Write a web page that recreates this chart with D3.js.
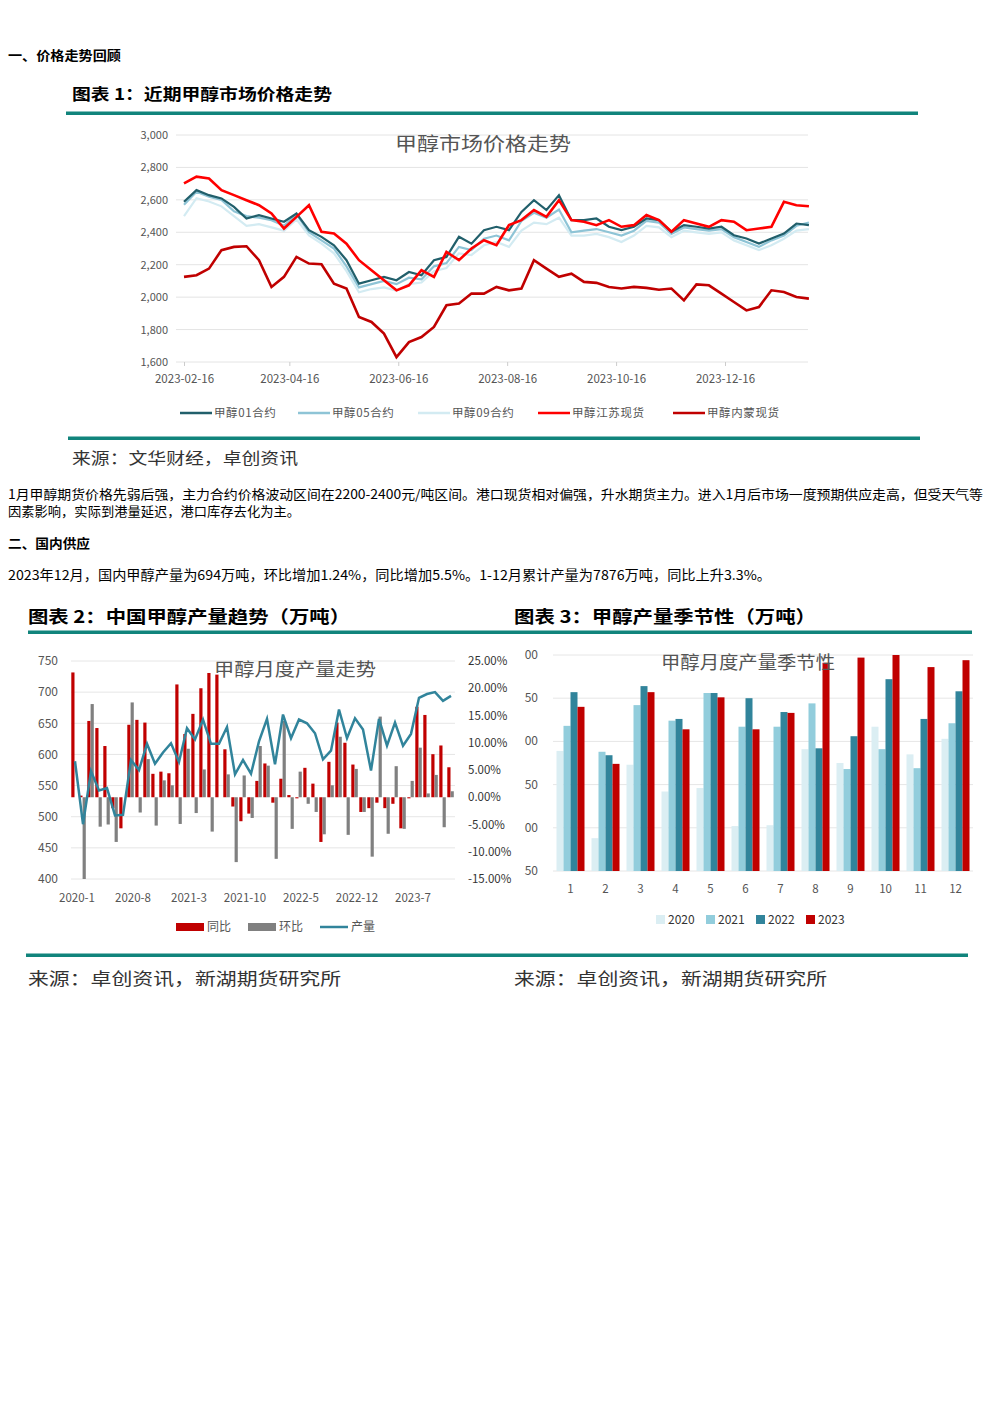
<!DOCTYPE html>
<html><head><meta charset="utf-8">
<script src="https://cdn.jsdelivr.net/npm/d3@7"></script>
<style>
body{margin:0;background:#fff;font-family:"Noto Sans CJK SC","Noto Sans",sans-serif;}
svg text{font-family:"Noto Sans CJK SC","Noto Sans",sans-serif;}
</style></head>
<body>
<svg id="page" width="992" height="1403"></svg>
<script>
// ---- chart 1 data: weekly samples from 2023-02-16
const priceStart = "2023-02-16";
const priceTicks = ["2023-02-16","2023-04-16","2023-06-16","2023-08-16","2023-10-16","2023-12-16"];
const priceYTicks = [1600,1800,2000,2200,2400,2600,2800,3000];
const c01 = [2588,2660,2629,2609,2557,2485,2506,2485,2465,2516,2413,2372,2320,2228,2083,2104,2125,2104,2155,2135,2228,2248,2372,2330,2413,2434,2413,2526,2598,2537,2629,2475,2475,2485,2434,2413,2434,2485,2475,2403,2444,2434,2423,2434,2382,2362,2330,2362,2392,2454,2444];
const c05 = [2570,2650,2620,2600,2530,2500,2490,2475,2440,2510,2400,2350,2300,2190,2060,2080,2100,2080,2120,2110,2190,2210,2310,2290,2360,2380,2350,2470,2520,2490,2540,2400,2410,2420,2400,2380,2410,2470,2460,2390,2430,2420,2410,2420,2370,2340,2310,2350,2380,2440,2460];
const c09 = [2500,2610,2590,2560,2500,2440,2450,2430,2410,2480,2380,2330,2270,2160,2030,2050,2060,2040,2080,2090,2160,2180,2270,2260,2320,2340,2310,2410,2460,2450,2490,2380,2380,2390,2370,2340,2380,2440,2430,2370,2410,2400,2390,2400,2350,2320,2290,2320,2360,2410,2420];
const spotJS = [2701,2743,2732,2660,2629,2598,2567,2516,2423,2495,2567,2403,2392,2330,2228,2166,2104,2042,2073,2166,2125,2279,2228,2300,2351,2320,2444,2475,2537,2495,2598,2475,2465,2444,2475,2434,2444,2506,2475,2403,2475,2454,2434,2475,2465,2413,2423,2434,2588,2567,2561];
const spotNM = [2125,2135,2176,2290,2310,2314,2228,2063,2125,2248,2207,2203,2083,2053,1877,1847,1775,1630,1723,1754,1816,1950,1960,2022,2022,2063,2042,2053,2228,2176,2125,2145,2094,2088,2063,2053,2063,2057,2046,2053,1980,2079,2073,2022,1970,1918,1939,2042,2032,2001,1991];
const priceNames = ["甲醇01合约","甲醇05合约","甲醇09合约","甲醇江苏现货","甲醇内蒙现货"];
const priceColors = ["#215f6b","#8ec4d6","#d3ebf2","#ff0000","#c00000"];

// ---- chart 2 data: 2020-1 .. 2023-12
const monthLabels = ["2020-1","2020-8","2021-3","2021-10","2022-5","2022-12","2023-7"];
const output = [589,488,573,542,546,502,503,591,575,617,585,603,
                618,588,642,624,656,617,617,644,568,591,569,621,
                657,584,664,626,656,650,634,592,606,672,626,658,
                640,574,657,614,651,614,633,691,697,700,686,694];
const yoy = [22.9,0.3,14.0,12.7,9.4,-2.0,-5.7,13.3,14.2,13.7,4.3,4.7,4.4,20.7,11.6,15.3,20.0,22.8,22.5,8.8,-1.7,-4.4,-3.0,3.0,
             6.2,-1.0,3.4,0.4,-0.2,5.4,2.5,-8.2,6.5,13.7,10.0,6.0,-2.7,-2.0,-1.0,-2.0,-1.2,-5.7,-0.2,16.6,15.1,7.9,9.5,5.5];
const mom = [0,-15.0,17.1,-5.4,-5.0,-8.2,0,17.4,-2.8,7.0,-5.2,3.1,2.2,-4.9,8.9,-2.9,5.1,-6.3,0,4.2,-11.9,4.0,-3.8,9.4,
             5.8,-11.3,14.0,-5.8,4.7,-1.2,-2.7,-6.8,2.2,11.1,-6.9,5.2,-2.7,-10.9,14.8,-6.7,5.7,-5.8,3.0,9.1,0.7,4.1,-5.5,1.1];
const leftTicks = [400,450,500,550,600,650,700,750];
const rightTicks = [-15,-10,-5,0,5,10,15,20,25];

// ---- chart 3 data
const months = ["1","2","3","4","5","6","7","8","9","10","11","12"];
const years = ["2020","2021","2022","2023"];
const y2020 = [589,488,573,542,546,502,503,591,575,617,585,603];
const y2021 = [618,588,642,624,656,617,617,644,568,591,569,621];
const y2022 = [657,584,664,626,656,650,634,592,606,672,626,658];
const y2023 = [640,574,657,614,651,614,633,691,697,700,686,694];
const seasonTicks = [450,500,550,600,650,700];
const seasonTickText = ["50","00","50","00","50","00"];
const yearColors = ["#dbeef3","#92cddc","#31849b","#c00000"];

const teal = "#11847c";
const svg = d3.select("#page");

function txt(x, y, s, size, opts = {}) {
  const t = svg.append("text").attr("x", x).attr("y", y).text(s)
    .attr("font-size", size).attr("fill", opts.fill || "#000")
    .attr("font-weight", opts.bold ? "bold" : "normal")
    .attr("text-anchor", opts.anchor || "start");
  if (opts.ls) t.attr("letter-spacing", opts.ls);
  if (opts.len) t.attr("textLength", opts.len).attr("lengthAdjust", "spacingAndGlyphs");
  return t;
}
function rule(x1, x2, y) {
  svg.append("rect").attr("x", x1).attr("y", y - 1.5).attr("width", x2 - x1).attr("height", 3.5).attr("fill", teal);
}

// page texts
txt(8, 60, "一、价格走势回顾", 13, {bold: true, len: 113});
txt(72, 100, "图表 1：近期甲醇市场价格走势", 16, {bold: true, len: 260});
rule(66, 918, 113);
rule(68, 920, 438);
txt(72, 464, "来源：文华财经，卓创资讯", 16, {fill: "#333", len: 226});
txt(8, 499, "1月甲醇期货价格先弱后强，主力合约价格波动区间在2200-2400元/吨区间。港口现货相对偏强，升水期货主力。进入1月后市场一度预期供应走高，但受天气等", 13, {len: 975});
txt(8, 516, "因素影响，实际到港量延迟，港口库存去化为主。", 13, {len: 292});
txt(8, 548, "二、国内供应", 13, {bold: true, len: 82});
txt(8, 580, "2023年12月，国内甲醇产量为694万吨，环比增加1.24%，同比增加5.5%。1-12月累计产量为7876万吨，同比上升3.3%。", 13.2, {len: 763});
txt(28, 623, "图表 2：中国甲醇产量趋势（万吨）", 17.5, {bold: true, len: 322});
txt(514, 623, "图表 3：甲醇产量季节性（万吨）", 17.5, {bold: true, len: 302});
rule(28, 972, 632);
rule(26, 968, 955);
txt(28, 985, "来源：卓创资讯，新湖期货研究所", 17, {fill: "#333", len: 313});
txt(514, 985, "来源：卓创资讯，新湖期货研究所", 17, {fill: "#333", len: 313});

// ===== chart 1
const parse = d3.timeParse("%Y-%m-%d");
const t0 = parse(priceStart);
const dates = c01.map((d, i) => d3.timeDay.offset(t0, 7 * i));
const x1 = d3.scaleTime().domain([parse("2023-02-16"), parse("2023-12-16")]).range([184, 725]);
const y1 = d3.scaleLinear().domain([1600, 3000]).range([362, 135]);
const g1 = svg.append("g");
g1.selectAll("line.grid").data(priceYTicks).enter().append("line")
  .attr("x1", 176).attr("x2", 808).attr("y1", d => y1(d)).attr("y2", d => y1(d))
  .attr("stroke", "#e4e4e4");
g1.append("g").attr("transform", "translate(176,0)")
  .call(d3.axisLeft(y1).tickValues(priceYTicks).tickFormat(d3.format(",")).tickSize(0).tickPadding(8))
  .call(a => a.select(".domain").remove())
  .selectAll("text").attr("font-size", 11).attr("fill", "#555");
g1.append("g").attr("transform", "translate(0,362)")
  .call(d3.axisBottom(x1).tickValues(priceTicks.map(parse)).tickFormat(d3.timeFormat("%Y-%m-%d")).tickSize(4).tickPadding(9))
  .call(a => a.select(".domain").remove())
  .call(a => a.selectAll("line").attr("stroke", "#ccc"))
  .selectAll("text").attr("font-size", 11.5).attr("fill", "#555");
txt(483, 151, "甲醇市场价格走势", 19, {fill: "#555", anchor: "middle", len: 176});
const priceSeries = [c01, c05, c09, spotJS, spotNM];
const line1 = d3.line().x((d, i) => x1(dates[i])).y(d => y1(d));
[2, 1, 0, 3, 4].forEach(k => {
  g1.append("path").datum(priceSeries[k]).attr("d", line1).attr("fill", "none")
    .attr("stroke", priceColors[k]).attr("stroke-width", k >= 3 ? 2.6 : 2.2);
});
const legX = [180, 298, 418, 538, 673];
priceNames.forEach((n, i) => {
  svg.append("line").attr("x1", legX[i]).attr("x2", legX[i] + 32).attr("y1", 413).attr("y2", 413)
    .attr("stroke", priceColors[i]).attr("stroke-width", 2.5);
  txt(legX[i] + 34, 417, n, 11.5, {fill: "#555", ls: 0.6});
});

// ===== chart 2
const x2 = d3.scaleBand().domain(d3.range(48)).range([71, 455]).padding(0);
const yL = d3.scaleLinear().domain([400, 750]).range([879, 661]);
const yR = d3.scaleLinear().domain([-15, 25]).range([879, 661]);
const g2 = svg.append("g");
g2.selectAll("line").data(leftTicks).enter().append("line")
  .attr("x1", 71).attr("x2", 455).attr("y1", d => yL(d)).attr("y2", d => yL(d)).attr("stroke", "#e6e6e6");
g2.append("g").attr("transform", "translate(64,0)")
  .call(d3.axisLeft(yL).tickValues(leftTicks).tickSize(0).tickPadding(6))
  .call(a => a.select(".domain").remove())
  .selectAll("text").attr("font-size", 12).attr("fill", "#555");
g2.append("g").attr("transform", "translate(462,0)")
  .call(d3.axisRight(yR).tickValues(rightTicks).tickFormat(d => d.toFixed(2) + "%").tickSize(0).tickPadding(6))
  .call(a => a.select(".domain").remove())
  .selectAll("text").attr("font-size", 11.5).attr("fill", "#333");
const bw = x2.bandwidth();
g2.selectAll("rect.yoy").data(yoy).enter().append("rect")
  .attr("x", (d, i) => x2(i) + 0.3).attr("width", bw * 0.4)
  .attr("y", d => yR(Math.max(0, d))).attr("height", d => Math.abs(yR(d) - yR(0)))
  .attr("fill", "#c00000");
g2.selectAll("rect.mom").data(mom).enter().append("rect")
  .attr("x", (d, i) => x2(i) + bw * 0.45).attr("width", bw * 0.4)
  .attr("y", d => yR(Math.max(0, d))).attr("height", d => Math.abs(yR(d) - yR(0)))
  .attr("fill", "#808080");
txt(295, 676, "甲醇月度产量走势", 18, {fill: "#555", anchor: "middle", len: 162});
g2.append("path").datum(output)
  .attr("d", d3.line().x((d, i) => x2(i) + bw / 2).y(d => yL(d)))
  .attr("fill", "none").attr("stroke", "#31849b").attr("stroke-width", 2.5);
monthLabels.forEach((m, j) => {
  txt(x2(j * 7) + bw / 2 + 2, 902, m, 11.5, {fill: "#555", anchor: "middle"});
});
svg.append("rect").attr("x", 176).attr("y", 923).attr("width", 28).attr("height", 8).attr("fill", "#c00000");
txt(207, 931, "同比", 12, {fill: "#555"});
svg.append("rect").attr("x", 248).attr("y", 923).attr("width", 28).attr("height", 8).attr("fill", "#808080");
txt(279, 931, "环比", 12, {fill: "#555"});
svg.append("line").attr("x1", 320).attr("x2", 348).attr("y1", 927).attr("y2", 927).attr("stroke", "#31849b").attr("stroke-width", 2.5);
txt(351, 931, "产量", 12, {fill: "#555"});

// ===== chart 3
const x3 = d3.scaleBand().domain(months).range([553, 973]).paddingInner(0.2).paddingOuter(0.1);
const xs = d3.scaleBand().domain(years).range([0, x3.bandwidth()]);
const y3 = d3.scaleLinear().domain([450, 700]).range([871, 655]);
const g3 = svg.append("g");
g3.selectAll("line").data(seasonTicks).enter().append("line")
  .attr("x1", 553).attr("x2", 973).attr("y1", d => y3(d)).attr("y2", d => y3(d)).attr("stroke", "#e6e6e6");
seasonTicks.forEach((t, i) => txt(538, y3(t) + 4, seasonTickText[i], 12, {fill: "#555", anchor: "end"}));
const yearSeries = [y2020, y2021, y2022, y2023];
yearSeries.forEach((vals, k) => {
  g3.selectAll("rect.y" + k).data(vals).enter().append("rect")
    .attr("x", (d, i) => x3(months[i]) + xs(years[k]))
    .attr("width", xs.bandwidth())
    .attr("y", d => y3(d)).attr("height", d => y3(450) - y3(d))
    .attr("fill", yearColors[k]);
});
g3.append("g").attr("transform", "translate(0,879)")
  .call(d3.axisBottom(x3).tickSize(0).tickPadding(6))
  .call(a => a.select(".domain").remove())
  .selectAll("text").attr("font-size", 11.5).attr("fill", "#555");
txt(748, 669, "甲醇月度产量季节性", 18, {fill: "#555", anchor: "middle", len: 174});
years.forEach((yr, i) => {
  const lx = 656 + i * 50;
  svg.append("rect").attr("x", lx).attr("y", 915).attr("width", 9).attr("height", 9).attr("fill", yearColors[i]);
  txt(lx + 12, 924, yr, 12, {fill: "#333"});
});
</script>
</body></html>
